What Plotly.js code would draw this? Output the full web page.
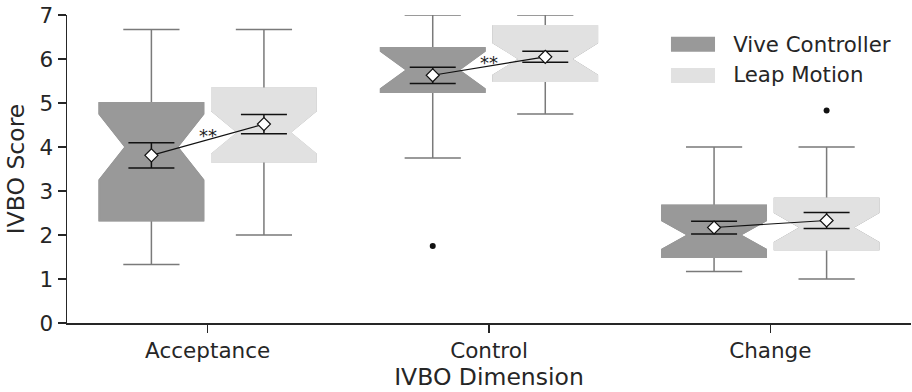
<!DOCTYPE html>
<html>
<head>
<meta charset="utf-8">
<script src="https://cdn.plot.ly/plotly-3.0.1.min.js"></script>
<style>html,body{margin:0;padding:0;background:#fff;}#chart{width:912px;height:392px;}</style>
</head>
<body>
<div id="chart"></div>
<script>
// ---- data ----
const categories = ['Acceptance', 'Control', 'Change'];
const groupNames = ['Vive Controller', 'Leap Motion'];

const viveQ1 = [2.33, 5.25, 1.50];
const viveMedian = [4.00, 5.75, 2.00];
const viveQ3 = [5.00, 6.25, 2.67];
const viveLowerFence = [1.33, 3.75, 1.17];
const viveUpperFence = [6.67, 7.00, 4.00];
const viveNotchSpan = [0.75, 0.43, 0.33];
const viveMean = [3.81, 5.63, 2.17];
const viveMeanErr = [0.285, 0.185, 0.145];

const leapQ1 = [3.67, 5.50, 1.67];
const leapMedian = [4.33, 6.00, 2.17];
const leapQ3 = [5.33, 6.75, 2.83];
const leapLowerFence = [2.00, 4.75, 1.00];
const leapUpperFence = [6.67, 7.00, 4.00];
const leapNotchSpan = [0.49, 0.37, 0.34];
const leapMean = [4.52, 6.05, 2.33];
const leapMeanErr = [0.22, 0.125, 0.18];

// outliers: group index, category index, value
const outlierGroup = [0, 1];
const outlierCategory = [1, 2];
const outlierValue = [1.75, 4.83];

const significance = ['**', '**', ''];

// ---- styling ----
const fills = ['#999999', '#e1e1e1'];
const whiskerColor = '#7a7a7a';
const groupOffset = [-0.2, 0.2];
const boxWidth = 0.37;
const txt = '#262626';

const groups = [
  {q1: viveQ1, med: viveMedian, q3: viveQ3, lo: viveLowerFence, hi: viveUpperFence, ns: viveNotchSpan, mean: viveMean, err: viveMeanErr},
  {q1: leapQ1, med: leapMedian, q3: leapQ3, lo: leapLowerFence, hi: leapUpperFence, ns: leapNotchSpan, mean: leapMean, err: leapMeanErr}
];

const pos = g => categories.map((c, i) => i + groupOffset[g]);

const traces = [];
groups.forEach((G, g) => {
  // box with whiskers
  traces.push({
    type: 'box', x: pos(g), q1: G.q1, median: G.med, q3: G.q3,
    lowerfence: G.lo, upperfence: G.hi, notched: true, notchspan: G.ns,
    notchwidth: 0.25, width: boxWidth, whiskerwidth: 0.54,
    fillcolor: fills[g], line: {color: whiskerColor, width: 1.5},
    boxpoints: false, showlegend: false, hoverinfo: 'skip'
  });
  // cover outline and median line
  traces.push({
    type: 'box', x: pos(g), q1: G.q1, median: G.med, q3: G.q3,
    lowerfence: G.q1, upperfence: G.q3, notched: true, notchspan: G.ns,
    notchwidth: 0.25, width: boxWidth, whiskerwidth: 0,
    fillcolor: fills[g], line: {color: fills[g], width: 1.8},
    boxpoints: false, showlegend: false, hoverinfo: 'skip'
  });
});

// legend entries (swatches drawn as shapes below)
groups.forEach((G, g) => {
  traces.push({
    type: 'scatter', mode: 'lines', x: [null], y: [null], name: groupNames[g],
    line: {color: 'rgba(0,0,0,0)', width: 1}, showlegend: true
  });
});

// outliers
traces.push({
  type: 'scatter', mode: 'markers',
  x: outlierValue.map((v, k) => outlierCategory[k] + groupOffset[outlierGroup[k]]),
  y: outlierValue,
  marker: {color: '#111', size: 6}, showlegend: false, hoverinfo: 'skip'
});

// lines connecting means
const lx = [], ly = [];
categories.forEach((c, i) => {
  lx.push(i + groupOffset[0], i + groupOffset[1], null);
  ly.push(viveMean[i], leapMean[i], null);
});
traces.push({
  type: 'scatter', mode: 'lines', x: lx, y: ly,
  line: {color: '#111', width: 1.2}, showlegend: false, hoverinfo: 'skip'
});

// means with error bars
groups.forEach((G, g) => {
  traces.push({
    type: 'scatter', mode: 'markers', x: pos(g), y: G.mean,
    error_y: {type: 'data', array: G.err, visible: true, color: '#111', thickness: 1.5, width: 23},
    marker: {symbol: 'diamond', size: 10, color: '#fff', line: {color: '#111', width: 1.2}},
    showlegend: false, hoverinfo: 'skip'
  });
});

const annotations = [];
categories.forEach((c, i) => {
  if (significance[i]) {
    annotations.push({
      x: i, y: (viveMean[i] + leapMean[i]) / 2, xref: 'x', yref: 'y',
      text: significance[i], showarrow: false, yanchor: 'middle', yshift: 4,
      font: {family: 'DejaVu Sans', size: 18, color: '#222'}
    });
  }
});

// legend swatches
const swatchX = [0.7156, 0.7678];
const swatchY = [[0.8808, 0.9295], [0.7792, 0.8279]];
const shapes = groups.map((G, g) => ({
  type: 'rect', xref: 'paper', yref: 'paper',
  x0: swatchX[0], x1: swatchX[1], y0: swatchY[g][0], y1: swatchY[g][1],
  fillcolor: fills[g], line: {width: 0}
}));

const axisCommon = {
  showline: true, linecolor: txt, linewidth: 1.5, ticks: 'outside', ticklen: 8,
  tickwidth: 1.3, tickcolor: txt, showgrid: false, zeroline: false,
  tickfont: {family: 'DejaVu Sans', size: 21.5, color: txt}
};

const layout = {
  width: 912, height: 392,
  margin: {l: 67, r: 1, t: 15, b: 69},
  paper_bgcolor: '#fff', plot_bgcolor: '#fff',
  boxmode: 'overlay',
  font: {family: 'DejaVu Sans', size: 21, color: txt},
  xaxis: Object.assign({}, axisCommon, {
    range: [-0.5, 2.5], tickmode: 'array', tickvals: categories.map((c, i) => i), ticktext: categories,
    title: {text: 'IVBO Dimension', font: {family: 'DejaVu Sans', size: 23.5, color: txt}, standoff: 3}
  }),
  yaxis: Object.assign({}, axisCommon, {
    range: [0, 7], dtick: 1, tick0: 0,
    title: {text: 'IVBO Score', font: {family: 'DejaVu Sans', size: 23.5, color: txt}, standoff: 8}
  }),
  showlegend: true,
  legend: {x: 0.742, y: 0.974, xanchor: 'left', yanchor: 'top', bgcolor: 'rgba(0,0,0,0)',
           font: {family: 'DejaVu Sans', size: 21.3, color: txt}},
  annotations: annotations,
  shapes: shapes
};

Plotly.newPlot('chart', traces, layout, {displayModeBar: false, staticPlot: true});
</script>
</body>
</html>
